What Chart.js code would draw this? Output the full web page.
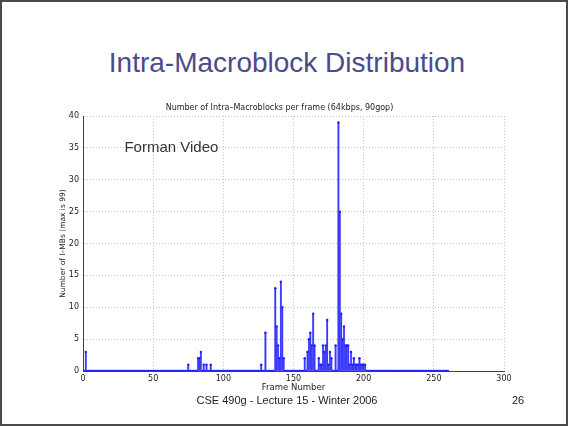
<!DOCTYPE html>
<html>
<head>
<meta charset="utf-8">
<script src="https://cdn.jsdelivr.net/npm/chart.js@4/dist/chart.umd.min.js"></script>
<style>
  body { margin: 0; background: #fff; }
  #slide { position: relative; width: 568px; height: 426px; box-sizing: border-box; border: 2px solid #4a4a4a; background: #fff; overflow: hidden; font-family: "Liberation Sans", Arial, sans-serif; }
  #title { position: absolute; left: 0; width: 570px; top: 47px; text-align: center; font-size: 28px; line-height: 28px; color: #4b4b8c; }
  #footer { position: absolute; left: 0; width: 570px; top: 393px; text-align: center; font-size: 11px; line-height: 11px; color: #222; }
  #page { position: absolute; left: 510px; top: 393px; font-size: 11px; line-height: 11px; color: #222; }
  #chart { position: absolute; left: 53px; top: 93px; }
</style>
</head>
<body>
<div id="slide">
  <div id="title">Intra-Macroblock Distribution</div>
  <canvas id="chart" width="465" height="300"></canvas>
  <div id="footer">CSE 490g - Lecture 15 - Winter 2006</div>
  <div id="page">26</div>
</div>
<script>
// Frames in the clip and the ones that had intra-coded macroblocks
const totalFrames = 260;
const activeFrames = [2, 75, 82, 83, 84, 86, 88, 91, 127, 130,
    137, 138, 139, 140, 141, 142, 143,
    158, 160, 161, 162, 163, 164, 165,
    168, 169, 170, 171, 172, 173, 174, 175, 176, 177, 180,
    182, 183, 184, 185, 186, 187, 188, 189, 190, 191, 192, 193, 194, 195, 196, 197, 198, 199, 200, 201];
const activeCounts = [3, 1, 2, 2, 3, 1, 1, 1, 1, 6,
    13, 7, 4, 2, 14, 10, 2,
    2, 3, 5, 6, 4, 9, 4,
    2, 1, 1, 4, 3, 4, 8, 1, 3, 2, 4,
    39, 25, 9, 5, 7, 4, 4, 4, 1, 3, 1, 2, 1, 1, 1, 2, 1, 1, 1, 1];

const xTicks = [0, 50, 100, 150, 200, 250, 300];
const yTicks = [0, 5, 10, 15, 20, 25, 30, 35, 40];

// every frame gets a point, zero where nothing was intra-coded
let series = [];
for (let f = 1; f <= totalFrames; f++) {
    let idx = activeFrames.indexOf(f);
    series.push({x: f, y: idx >= 0 ? activeCounts[idx] : 0});
}

const tickFont = {family: "DejaVu Sans", size: 8};

// "Forman Video" annotation inside the axes
const annotate = {
    id: 'annotate',
    afterDraw(chart) {
        const ctx = chart.ctx;
        ctx.save();
        ctx.font = '15px "Liberation Sans", Arial, sans-serif';
        ctx.fillStyle = '#333';
        ctx.textBaseline = 'alphabetic';
        ctx.fillText('Forman Video', chart.scales.x.getPixelForValue(29.5), chart.scales.y.getPixelForValue(34.3));
        ctx.restore();
    }
};

new Chart(document.getElementById('chart').getContext('2d'), {
    type: 'bar',
    data: {
        datasets: [
            {
                type: 'line',
                data: series,
                showLine: false,
                pointRadius: 1.2,
                pointBorderWidth: 0,
                pointBackgroundColor: '#2020ff',
                order: 0
            },
            {
                data: series,
                backgroundColor: '#3a3aff',
                barThickness: 1,
                grouped: false,
                order: 1
            },
            {
                data: series,
                backgroundColor: '#b2b2ff',
                barPercentage: 1,
                categoryPercentage: 1,
                grouped: false,
                order: 2
            }
        ]
    },
    options: {
        responsive: false,
        animation: false,
        devicePixelRatio: 1,
        layout: {padding: {left: 0, right: 16, top: 0, bottom: 0}},
        plugins: {
            legend: {display: false},
            tooltip: {enabled: false},
            title: {
                display: true,
                text: 'Number of Intra\u2013Macroblocks per frame (64kbps, 90gop)',
                color: '#222',
                font: {family: "DejaVu Sans", size: 8, weight: 'normal'},
                padding: {top: 8.5, bottom: 3}
            }
        },
        scales: {
            x: {
                type: 'linear',
                min: 0, max: 300,
                offset: false,
                afterBuildTicks: s => { s.ticks = xTicks.map(v => ({value: v})); },
                afterFit: s => { s.height = 24; },
                ticks: {color: '#222', font: tickFont, padding: 3, maxRotation: 0},
                grid: {color: '#c4c4c4', drawTicks: false, offset: false},
                border: {color: '#404040', width: 1, dash: [1, 2]},
                title: {display: true, text: 'Frame Number', color: '#222', font: {family: "DejaVu Sans", size: 8.5}, padding: {top: 0, bottom: 2}}
            },
            y: {
                min: 0, max: 40,
                afterBuildTicks: s => { s.ticks = yTicks.map(v => ({value: v})); },
                afterFit: s => { s.width = 28; },
                ticks: {color: '#222', font: tickFont, padding: 4},
                grid: {color: '#c4c4c4', drawTicks: false},
                border: {color: '#404040', width: 1, dash: [1, 2]},
                title: {display: true, text: 'Number of I\u2013MBs (max is 99)', color: '#222', font: {family: "DejaVu Sans", size: 7.5}, padding: {top: 3.5, bottom: 0}}
            }
        }
    },
    plugins: [annotate]
});
</script>
</body>
</html>
